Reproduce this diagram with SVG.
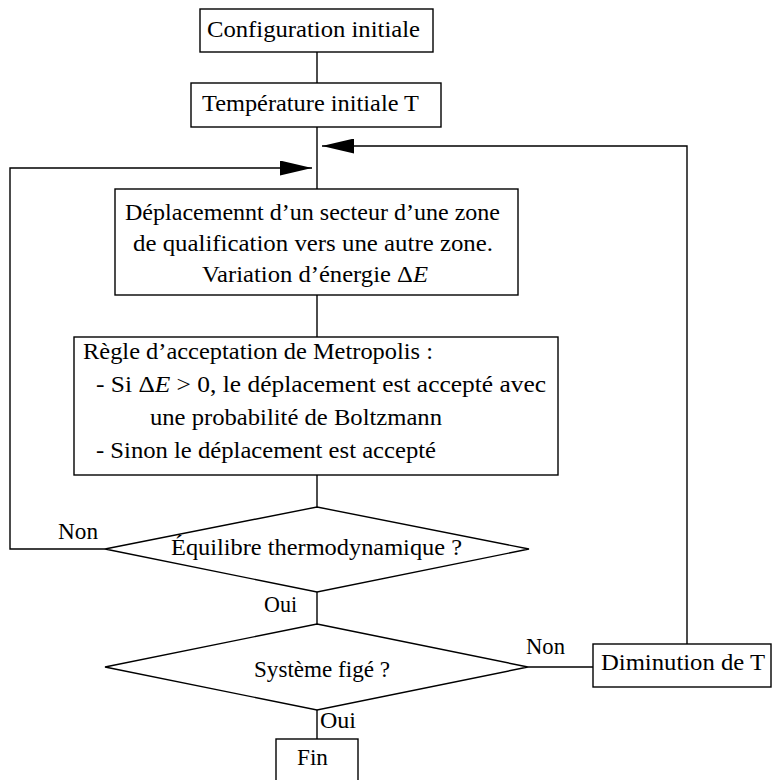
<svg xmlns="http://www.w3.org/2000/svg" width="773" height="780" viewBox="0 0 773 780">
<style>
  .box { fill: #ffffff; stroke: #000000; stroke-width: 1.4; }
  .conn { fill: none; stroke: #000000; stroke-width: 1.4; }
  text { font-family: 'Liberation Serif', 'DejaVu Serif', 'Noto Serif', 'Times New Roman', serif; font-size: 23.5px; fill: #000000; }
  .it { font-style: italic; }
</style>
<defs>
  <marker id="arrow" markerUnits="userSpaceOnUse" markerWidth="32" markerHeight="15" refX="32" refY="7.5" orient="auto">
    <path d="M0,0 L32,7.5 L0,15 Z" fill="#000000"/>
  </marker>
</defs>
<rect width="773" height="780" fill="#ffffff"/>

<g id="connectors">
  <line class="conn" x1="317" y1="52" x2="317" y2="83"/>
  <line class="conn" x1="317" y1="127" x2="317" y2="189"/>
  <line class="conn" x1="317" y1="295" x2="317" y2="337"/>
  <line class="conn" x1="317" y1="475" x2="317" y2="507"/>
  <line class="conn" x1="317" y1="592" x2="317" y2="624"/>
  <line class="conn" x1="317" y1="710" x2="317" y2="739"/>
  <line class="conn" x1="528" y1="667" x2="593" y2="667"/>
  <polyline class="conn" points="105,549 10,549 10,168 312,168" marker-end="url(#arrow)"/>
  <polyline class="conn" points="687,644 687,146 322,146" marker-end="url(#arrow)"/>
  <text font-family="Liberation Serif, DejaVu Serif, serif" x="58" y="539" textLength="40" lengthAdjust="spacingAndGlyphs">Non</text>
  <text font-family="Liberation Serif, DejaVu Serif, serif" x="264" y="612" textLength="33" lengthAdjust="spacingAndGlyphs">Oui</text>
  <text font-family="Liberation Serif, DejaVu Serif, serif" x="526" y="654" textLength="39" lengthAdjust="spacingAndGlyphs">Non</text>
  <text font-family="Liberation Serif, DejaVu Serif, serif" x="320" y="728" textLength="36" lengthAdjust="spacingAndGlyphs">Oui</text>
</g>

<g id="config-initiale">
  <rect class="box" x="200" y="9" width="233" height="43"/>
  <text x="207" y="37" textLength="213" lengthAdjust="spacingAndGlyphs">Configuration initiale</text>
</g>

<g id="temperature-initiale">
  <rect class="box" x="191" y="83" width="250" height="44"/>
  <text x="202" y="111" textLength="217" lengthAdjust="spacingAndGlyphs">Température initiale T</text>
</g>

<g id="deplacement">
  <rect class="box" x="115" y="189" width="403" height="106"/>
  <text x="125" y="220" textLength="375" lengthAdjust="spacingAndGlyphs">Déplacemennt d’un secteur d’une zone</text>
  <text x="133" y="251" textLength="360" lengthAdjust="spacingAndGlyphs">de qualification vers une autre zone.</text>
  <text x="202" y="282" textLength="226" lengthAdjust="spacingAndGlyphs">Variation d’énergie Δ<tspan class="it">E</tspan></text>
</g>

<g id="metropolis">
  <rect class="box" x="74" y="337" width="484" height="138"/>
  <text x="83" y="359" textLength="350" lengthAdjust="spacingAndGlyphs">Règle d’acceptation de Metropolis :</text>
  <text x="96" y="392" textLength="450" lengthAdjust="spacingAndGlyphs">- Si Δ<tspan class="it">E</tspan> &gt; 0, le déplacement est accepté avec</text>
  <text x="150" y="425" textLength="292" lengthAdjust="spacingAndGlyphs">une probabilité de Boltzmann</text>
  <text x="96" y="458" textLength="340" lengthAdjust="spacingAndGlyphs">- Sinon le déplacement est accepté</text>
</g>

<g id="equilibre">
  <polygon class="box" points="317,507 529,549 317,592 105,549"/>
  <text x="171" y="555" textLength="291" lengthAdjust="spacingAndGlyphs">Équilibre thermodynamique ?</text>
</g>

<g id="systeme-fige">
  <polygon class="box" points="317,624 528,667 317,710 105,667"/>
  <text x="254" y="677" textLength="136" lengthAdjust="spacingAndGlyphs">Système figé ?</text>
</g>

<g id="diminution">
  <rect class="box" x="593" y="644" width="178" height="43"/>
  <text x="601" y="670" textLength="164" lengthAdjust="spacingAndGlyphs">Diminution de T</text>
</g>

<g id="fin">
  <rect class="box" x="276" y="739" width="82" height="50"/>
  <text x="297" y="765" textLength="31" lengthAdjust="spacingAndGlyphs">Fin</text>
</g>
</svg>
